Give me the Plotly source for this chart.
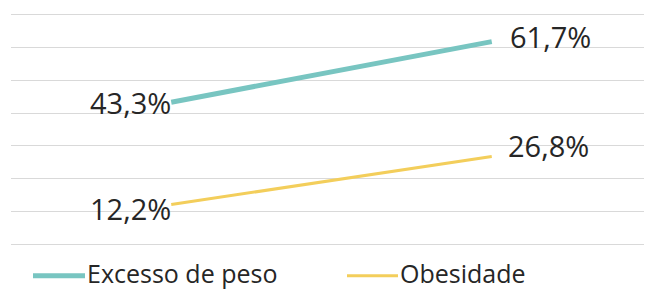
import plotly.graph_objects as go

categories = ["A", "B"]
series_names = ["Excesso de peso", "Obesidade"]
excesso = [43.3, 61.7]
obesidade = [12.2, 26.8]
colors = ["#78C5C1", "#F3CE5B"]
widths = [5, 3]

def fmt(v):
    return f"{v:.1f}".replace(".", ",") + "%"

FONT = "Open Sans"
TXT = "#262626"

fig = go.Figure()
for name, vals, c, w in zip(series_names, [excesso, obesidade], colors, widths):
    fig.add_trace(go.Scatter(x=categories, y=vals, mode="lines", name=name,
                             line=dict(color=c, width=w), hoverinfo="skip",
                             showlegend=False))

label_shift = {
    ("Excesso de peso", 0): (2, 0),
    ("Excesso de peso", 1): (16, 5),
    ("Obesidade", 0): (2, -4),
    ("Obesidade", 1): (14, 11),
}
for name, vals in zip(series_names, [excesso, obesidade]):
    for i, (cat, v) in enumerate(zip(categories, vals)):
        dx, dy = label_shift[(name, i)]
        fig.add_annotation(x=cat, y=v, text=fmt(v), showarrow=False,
                           xanchor="right" if i == 0 else "left", yanchor="middle",
                           xshift=dx, yshift=dy,
                           font=dict(family=FONT, size=29, color=TXT))

# geometry (page pixels): y=0 at 245, y=70 at 14 -> 3.3 px per unit
PX = 3.3
Y_LO, Y_HI = -1, 71
top_page = 14 - (Y_HI - 70) * PX
bot_page = 245 + (0 - Y_LO) * PX
H_PLOT = bot_page - top_page
W_PLOT = 641.0

# manual legend (paper coordinates)
legend_items = [
    (series_names[0], colors[0], widths[0], 33, 85),
    (series_names[1], colors[1], widths[1], 347, 398),
]
ly = (bot_page - 276) / H_PLOT
for name, c, w, x0, x1 in legend_items:
    fig.add_shape(type="line", xref="paper", yref="paper",
                  x0=(x0 - 11) / W_PLOT, x1=(x1 - 11) / W_PLOT, y0=ly, y1=ly,
                  line=dict(color=c, width=w))
    fig.add_annotation(xref="paper", yref="paper", x=(x1 - 11) / W_PLOT, y=ly,
                       text=name, showarrow=False, xanchor="left", yanchor="middle",
                       xshift=0, yshift=3,
                       font=dict(family=FONT, size=25, color=TXT))

# page body has an 8px margin, so the figure is sized to fill the rest of the window
fig.update_layout(
    width=644, height=281,
    margin=dict(l=3, r=0, t=top_page - 8, b=281 - (bot_page - 8)),
    paper_bgcolor="white", plot_bgcolor="white",
    showlegend=False,
    xaxis=dict(type="category", range=[-0.5, 1.5], showgrid=False, showticklabels=False,
               zeroline=False, showline=False, ticks=""),
    yaxis=dict(range=[Y_LO, Y_HI], tick0=0, dtick=10, showgrid=True, gridcolor="#D9D9D9",
               gridwidth=1, showticklabels=False, zeroline=False, showline=False, ticks=""),
)

fig.write_html("out.html")
